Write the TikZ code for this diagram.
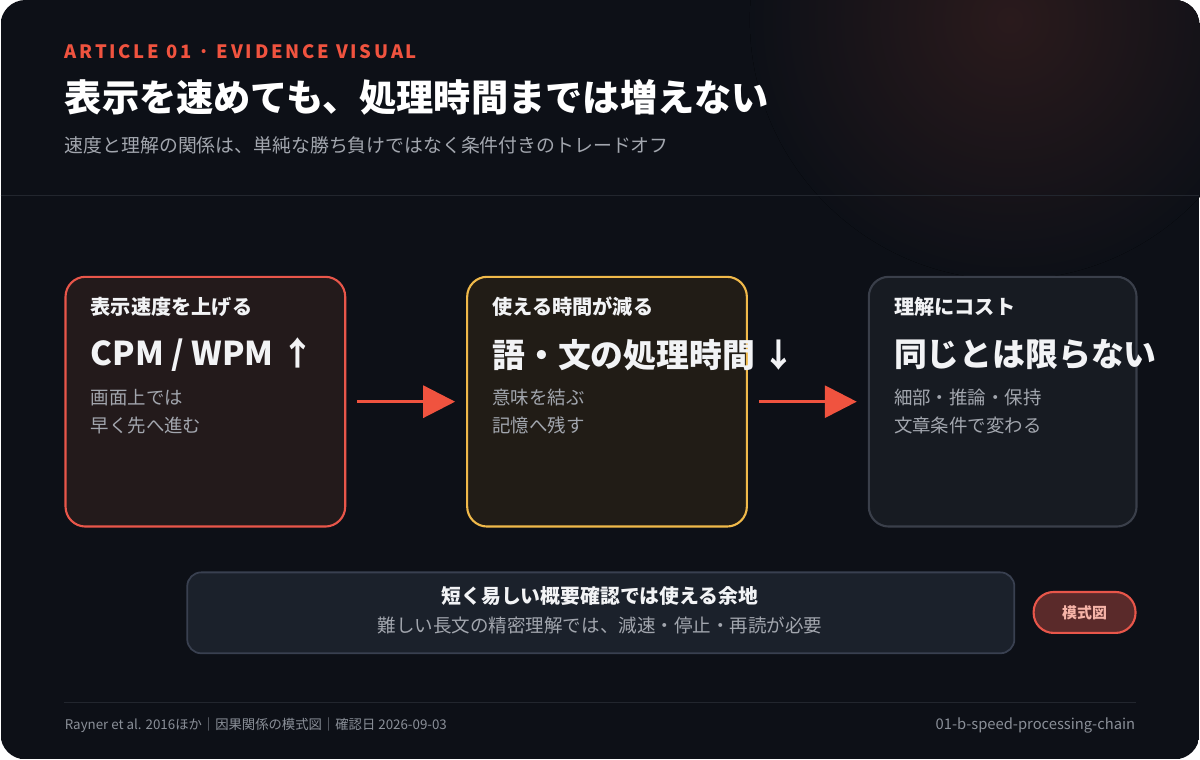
\documentclass[tikz,border=0pt]{standalone}
\usepackage{fontspec}
\setmainfont{Noto Sans CJK JP}
\usetikzlibrary{arrows.meta,positioning,calc}
\definecolor{bgdark}{HTML}{0D1017}
\definecolor{rulegray}{HTML}{22262E}
\definecolor{accent}{HTML}{F0533F}
\definecolor{txtmain}{HTML}{F2F3F5}
\definecolor{txtsub}{HTML}{A2A6AE}
\definecolor{txtfoot}{HTML}{8A8F98}
\definecolor{redfill}{HTML}{231A1B}
\definecolor{redline}{HTML}{E8564A}
\definecolor{yelfill}{HTML}{211C16}
\definecolor{yelline}{HTML}{F0B94A}
\definecolor{grayfill}{HTML}{171B22}
\definecolor{grayline}{HTML}{3A3F4A}
\definecolor{notefill}{HTML}{1B212B}
\definecolor{noteline}{HTML}{394050}
\definecolor{badgefill}{HTML}{5A2A2A}
\definecolor{badgetxt}{HTML}{F7B4A8}
\definecolor{glow}{HTML}{2A1A1C}
\begin{document}
\begin{tikzpicture}
  [
  x=0.02cm, y=-0.02cm,
  card/.style={rectangle, rounded corners=0.4cm, line width=1.2pt, minimum width=5.6cm, minimum height=5cm, anchor=north west},
  head/.style={anchor=west, inner sep=0pt, font=\fontsize{11.5}{13}\selectfont\bfseries, text=txtmain},
  big/.style={anchor=west, inner sep=0pt, font=\fontsize{18.7}{21}\selectfont\bfseries, text=txtmain},
  desc/.style={anchor=north west, inner sep=0pt, font=\fontsize{10.5}{16}\selectfont, text=txtsub, align=left},
  arr/.style={line width=1.8pt, draw=accent, -{Triangle[length=0.64cm, width=0.64cm]}},
  ]

% background
\fill[white] (0,0) rectangle (1200,760);
\begin{scope}
\clip[rounded corners=0.5cm] (0,0) rectangle (1200,760);
\fill[bgdark] (0,0) rectangle (1200,760);
\fill[inner color=glow, outer color=bgdark] (1010,20) circle (260);
\end{scope}
\draw[rulegray, line width=0.6pt] (0,196) -- (1200,196);

% header
\node[anchor=west, inner sep=0pt, text=accent, font=\fontsize{10.5}{12}\selectfont\bfseries\addfontfeatures{LetterSpace=15}] (kicker) at (64,52) {ARTICLE 01 · EVIDENCE VISUAL};
\node[anchor=west, inner sep=0pt, text=white, font=\fontsize{21.2}{24}\selectfont\bfseries] (title) at (64,98) {表示を速めても、処理時間までは増えない};
\node[anchor=west, inner sep=0pt, text=txtsub, font=\fontsize{10.75}{12}\selectfont] (subtitle) at (64,145) {速度と理解の関係は、単純な勝ち負けではなく条件付きのトレードオフ};

% cards
\node[card, fill=redfill, draw=redline] (c1) at (64,276) {};
\node[card, fill=yelfill, draw=yelline] (c2) at (466,276) {};
\node[card, fill=grayfill, draw=grayline, minimum width=5.36cm] (c3) at (868,276) {};

\node[head] (h1) at (90,307) {表示速度を上げる};
\node[big] (b1) at (90,355) {CPM / WPM ↑};
\node[desc] (d1) at (90,389) {画面上では\\早く先へ進む};

\node[head] (h2) at (492,307) {使える時間が減る};
\node[big] (b2) at (492,355) {語・文の処理時間 ↓};
\node[desc] (d2) at (492,389) {意味を結ぶ\\記憶へ残す};

\node[head] (h3) at (894,307) {理解にコスト};
\node[big] (b3) at (894,355) {同じとは限らない};
\node[desc] (d3) at (894,389) {細部・推論・保持\\文章条件で変わる};

\draw[arr, shorten <=0.22cm, shorten >=0.22cm] (c1.east) -- (c2.west);
\draw[arr, shorten <=0.22cm, shorten >=0.22cm] (c2.east) -- (c3.west);

% note
\node[rectangle, rounded corners=0.28cm, fill=notefill, draw=noteline, line width=1pt, minimum width=16.56cm, minimum height=1.62cm, anchor=north west] (note) at (186,572) {};
\node[inner sep=0pt, text=txtmain, font=\fontsize{11.3}{13}\selectfont\bfseries] (n1) at (600,597) {短く易しい概要確認では使える余地};
\node[inner sep=0pt, text=txtsub, font=\fontsize{10.55}{12}\selectfont] (n2) at (600,626) {難しい長文の精密理解では、減速・停止・再読が必要};

\node[rectangle, rounded corners=0.4cm, fill=badgefill, draw=redline, line width=1.2pt, minimum width=2.04cm, minimum height=0.82cm, text=badgetxt, font=\fontsize{8.5}{10}\selectfont\bfseries] (badge) at (1085,613) {模式図};

% footer
\draw[rulegray, line width=1pt] (64,703) -- (1136,703);
\node[anchor=west, inner sep=0pt, text=txtfoot, font=\fontsize{7.6}{9}\selectfont] (src) at (64,726) {Rayner et al. 2016ほか｜因果関係の模式図｜確認日 2026-09-03};
\node[anchor=east, inner sep=0pt, text=txtfoot, font=\fontsize{8.4}{9}\selectfont] (slug) at (1136,726) {01-b-speed-processing-chain};
\end{tikzpicture}
\end{document}
